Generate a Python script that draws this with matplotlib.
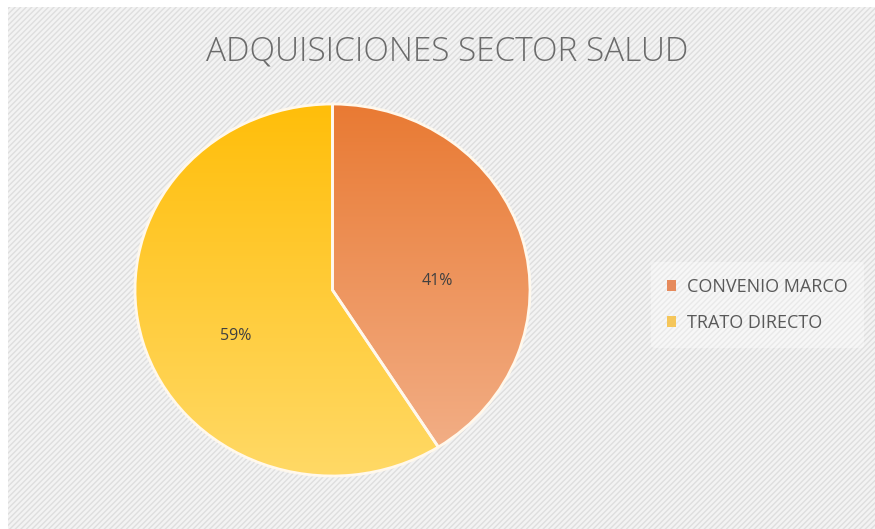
import numpy as np
import matplotlib
matplotlib.use("Agg")
import matplotlib.pyplot as plt
from matplotlib.patches import Rectangle
from matplotlib.colors import LinearSegmentedColormap

# data
categories = ["CONVENIO MARCO", "TRATO DIRECTO"]
shares = [41, 59]
colors_top = ["#E97A33", "#FFBE0A"]
colors_bottom = ["#F3B28C", "#FFD966"]
title = "ADQUISICIONES SECTOR SALUD"

fig = plt.figure(figsize=(8.75, 5.29), dpi=100)
fig.patch.set_facecolor("white")

# hatched chart-area background
bg = Rectangle((8 / 875, 0), 1.0, 1 - 7 / 529, transform=fig.transFigure,
               facecolor="#f3f3f3", edgecolor="#dedede", hatch="//////", linewidth=0,
               zorder=-10)
fig.patches.append(bg)

fig.text(447 / 875, 1 - 52 / 529, title, ha="center", va="center",
         fontsize=24, color="#6b6b6b", family="Open Sans", fontweight="light")

# pie axes (slightly elliptical like the source)
ax = fig.add_axes([135 / 875, 53 / 529, 395 / 875, 372 / 529])
wedges, texts, autotexts = ax.pie(
    shares, startangle=90, counterclock=False, autopct="%1.0f%%",
    pctdistance=0.53, labels=None,
    wedgeprops=dict(edgecolor="#fff8ec", linewidth=2),
    textprops=dict(fontsize=11.5, color="#404040", family="Open Sans"))

# vertical gradient fill for each slice
grad = np.linspace(1, 0, 256).reshape(-1, 1)
for w, ct, cb in zip(wedges, colors_top, colors_bottom):
    cmap = LinearSegmentedColormap.from_list("g", [cb, ct])
    im = ax.imshow(grad, extent=[-1, 1, -1, 1], aspect="auto", cmap=cmap,
                   origin="upper", zorder=0)
    im.set_clip_path(w)
    w.set_facecolor("none")
    w.set_zorder(1)
ax.set_xlim(-1, 1)
ax.set_ylim(-1, 1)
ax.set_aspect("auto")

for t in autotexts:
    x, y = t.get_position()
    t.set_position((x + 0.02, y - 0.1))
    t.set_zorder(3)

leg = fig.legend(wedges, categories, loc="center left",
                 bbox_to_anchor=(642 / 875, 1 - 305 / 529), frameon=True,
                 prop=dict(family="Open Sans", size=13), labelcolor="#595959",
                 handlelength=0.5, handleheight=0.5, handletextpad=0.6,
                 labelspacing=1.0, borderpad=0.9)
leg.get_frame().set_facecolor("white")
leg.get_frame().set_alpha(0.35)
leg.get_frame().set_linewidth(0)
for h, c in zip(leg.legend_handles, ["#E68A5C", "#F5C65A"]):
    h.set_facecolor(c)
    h.set_edgecolor("none")

fig.savefig("out.png", dpi=100)
